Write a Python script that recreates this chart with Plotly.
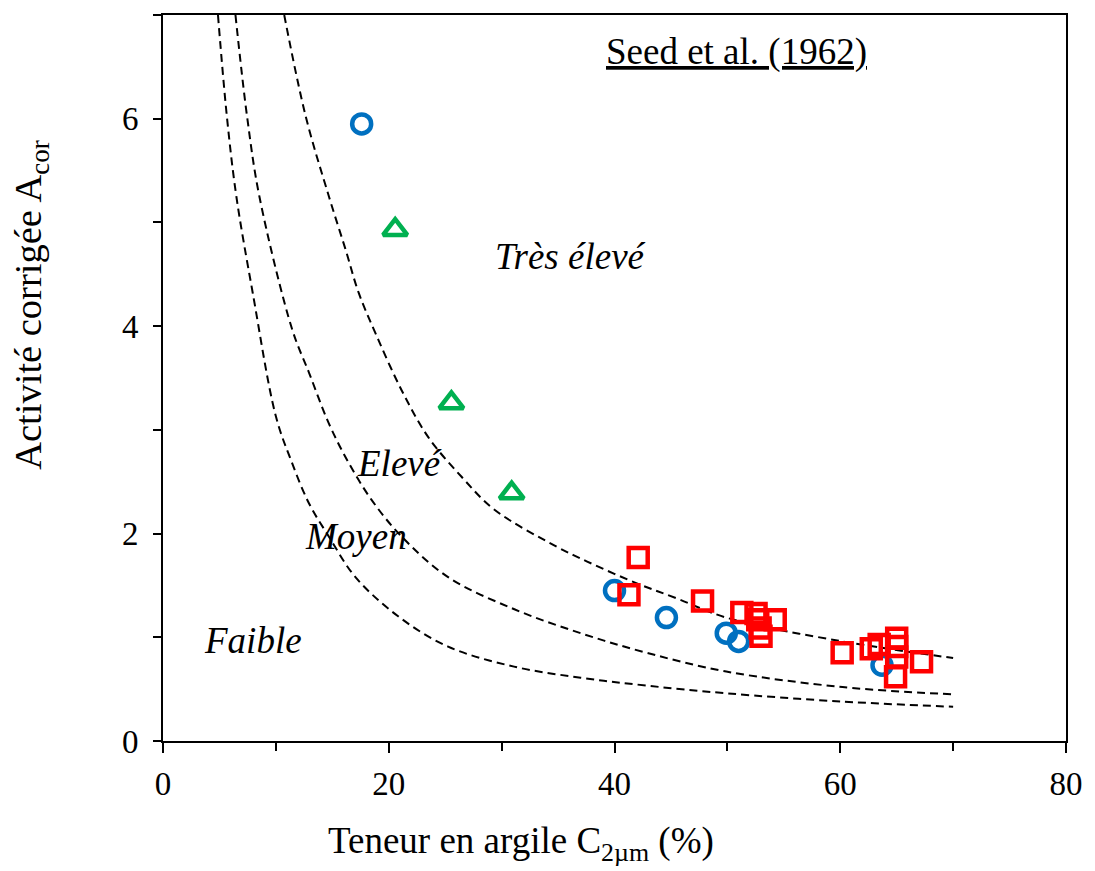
import plotly.graph_objects as go

# Boundary curves
low_c = [4.87, 5.66, 6.5, 7.95, 10.0, 11.33, 12.94, 14.7, 17.05, 20.86, 25.26, 31.1, 37.0, 42.86, 49.9, 60.2, 70.0]
low_a = [7.0, 6.02, 5.25, 4.32, 3.13, 2.71, 2.29, 1.97, 1.58, 1.20, 0.91, 0.717, 0.61, 0.534, 0.46, 0.38, 0.33]

mid_c = [6.42, 7.45, 8.54, 11.47, 12.94, 14.7, 16.46, 18.51, 21.15, 25.26, 31.13, 36.99, 42.86, 49.9, 60.2, 70.0]
mid_a = [7.0, 6.02, 5.25, 3.96, 3.55, 3.06, 2.68, 2.32, 1.97, 1.58, 1.27, 1.04, 0.85, 0.67, 0.52, 0.45]

up_c = [10.74, 12.65, 14.7, 16.17, 17.34, 18.95, 21.15, 23.5, 26.43, 29.37, 34.94, 37.58, 41.98, 45.5, 49.9, 60.2, 70.0]
up_a = [7.0, 6.02, 5.25, 4.74, 4.32, 3.90, 3.38, 2.93, 2.55, 2.23, 1.87, 1.73, 1.52, 1.376, 1.19, 0.96, 0.80]

# Data points
blue_c = [17.6, 40.0, 44.6, 49.9, 51.0, 63.7]
blue_a = [5.95, 1.45, 1.19, 1.04, 0.96, 0.73]

green_c = [20.57, 25.55, 30.89]
green_a = [4.93, 3.26, 2.39]

red_c = [42.1, 41.28, 47.8, 51.28, 52.54, 52.69, 54.24, 52.9, 52.98, 60.17, 62.75, 63.45, 65.0, 65.0, 65.0, 64.9, 67.2]
red_a = [1.77, 1.41, 1.35, 1.24, 1.23, 1.17, 1.17, 1.09, 1.01, 0.85, 0.89, 0.93, 0.99, 0.91, 0.81, 0.62, 0.765]

FONT = "Liberation Serif, Times New Roman, serif"

fig = go.Figure()
for cx, ay in [(low_c, low_a), (mid_c, mid_a), (up_c, up_a)]:
    fig.add_trace(go.Scatter(x=cx, y=ay, mode="lines",
                             line=dict(color="black", width=2, dash="8px,5px", shape="spline", smoothing=1.0),
                             showlegend=False, hoverinfo="skip"))

fig.add_trace(go.Scatter(x=blue_c, y=blue_a, mode="markers",
                         marker=dict(symbol="circle-open", size=19, color="#0070C0", line=dict(width=4.5, color="#0070C0")),
                         showlegend=False))
fig.add_trace(go.Scatter(x=green_c, y=green_a, mode="markers",
                         marker=dict(symbol="triangle-up-open", size=21, color="#00B050", line=dict(width=4.5, color="#00B050")),
                         showlegend=False))
fig.add_trace(go.Scatter(x=red_c, y=red_a, mode="markers",
                         marker=dict(symbol="square-open", size=19, color="#FF0000", line=dict(width=4.5, color="#FF0000")),
                         showlegend=False))

annots = [
    dict(x=50.8, y=6.64, text="<u>Seed et al. (1962)</u>"),
    dict(x=36.1, y=4.67, text="<i>Très élevé</i>"),
    dict(x=20.95, y=2.68, text="<i>Elevé</i>"),
    dict(x=17.07, y=1.97, text="<i>Moyen</i>"),
    dict(x=8.0, y=0.97, text="<i>Faible</i>"),
]
for a in annots:
    fig.add_annotation(x=a["x"], y=a["y"], xref="x", yref="y", text=a["text"], showarrow=False,
                       font=dict(family=FONT, size=37, color="black"), xanchor="center", yanchor="middle")

# Axis titles as annotations (offset from axis centres as in reference)
fig.add_annotation(x=0.3966, y=-0.141, xref="paper", yref="paper",
                   text="Teneur en argile C<sub>2µm</sub> (%)", showarrow=False,
                   font=dict(family=FONT, size=37, color="black"), xanchor="center", yanchor="middle")
fig.add_annotation(x=-0.1463, y=0.6006, xref="paper", yref="paper",
                   text="Activité corrigée A<sub>cor</sub>", showarrow=False, textangle=-90,
                   font=dict(family=FONT, size=38.5, color="black"), xanchor="center", yanchor="middle")

fig.update_layout(
    width=1095, height=871, autosize=False,
    margin=dict(l=163, r=23, t=15, b=130),
    plot_bgcolor="white", paper_bgcolor="white",
    font=dict(family=FONT, size=33, color="black"),
    showlegend=False,
)
fig.update_xaxes(range=[0, 80], tickvals=[0, 20, 40, 60, 80], ticks="outside", ticklen=10, tickwidth=2,
                 tickcolor="black", showline=True, linewidth=2, linecolor="black", mirror=True,
                 showgrid=False, zeroline=False, ticklabelstandoff=2,
                 tickfont=dict(family=FONT, size=33, color="black"),
                 minor=dict(dtick=10, tick0=0, ticks="outside", ticklen=8, tickwidth=2, tickcolor="black", showgrid=False))
fig.update_yaxes(range=[0, 7], tickvals=[0, 2, 4, 6], ticks="outside", ticklen=8, tickwidth=2,
                 tickcolor="black", showline=True, linewidth=2, linecolor="black", mirror=True,
                 showgrid=False, zeroline=False, ticklabelstandoff=8,
                 tickfont=dict(family=FONT, size=33, color="black"),
                 minor=dict(dtick=1, tick0=0, ticks="outside", ticklen=8, tickwidth=2, tickcolor="black", showgrid=False))

fig.write_html("out.html", config={"displayModeBar": False},
               post_script="document.body.style.margin='0';document.body.style.overflow='hidden';")
